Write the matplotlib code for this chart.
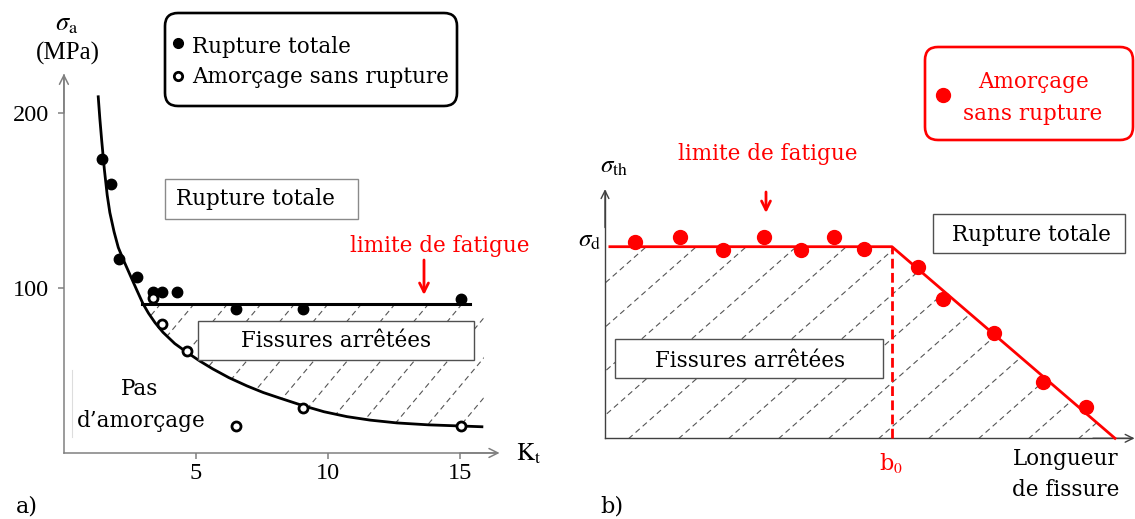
import numpy as np
import matplotlib.pyplot as plt
from matplotlib.patches import FancyBboxPatch, Polygon
from matplotlib.lines import Line2D

plt.rcParams['mathtext.fontset'] = 'stix'

W, H = 1135, 519
SERIF = 'DejaVu Serif'
RED = '#ff0000'

# ---- a) sigma_a (MPa) vs Kt ----
kt_total = [1.45, 1.78, 2.09, 2.75, 3.38, 3.70, 4.29, 6.52, 9.04, 15.04]
sa_total = [173.7, 159.4, 116.4, 106.3, 97.7, 97.7, 97.7, 87.6, 87.6, 93.4]
kt_init = [3.36, 3.70, 4.67, 6.52, 9.04, 15.04]
sa_init = [93.9, 79.0, 63.9, 21.0, 31.3, 21.0]
kt_curve = [1.30, 1.36, 1.43, 1.53, 1.64, 1.74, 1.90, 2.06, 2.28, 2.50, 2.75, 2.99,
            3.20, 3.45, 3.75, 4.20, 4.66, 5.15, 5.64, 6.25, 6.93, 7.55, 8.18, 9.05,
            9.85, 10.72, 11.60, 12.61, 13.80, 15.11, 15.83]
sa_curve = [209.3, 197.0, 184.5, 168.0, 153.0, 143.0, 132.0, 123.0, 115.0, 107.5, 99.0, 91.0,
            85.5, 80.0, 74.5, 68.0, 63.0, 58.0, 53.5, 48.5, 43.8, 40.0, 36.8, 32.5,
            29.0, 26.2, 24.2, 22.6, 21.5, 20.8, 20.4]
fatigue_kt = [2.95, 15.38]
fatigue_sa = [90.7, 90.7]
kt_ticks = [5, 10, 15]
sa_ticks = [100, 200]

# ---- b) sigma_th vs crack length (b0 = 1, sigma_d = 1) ----
a_points = [0.105, 0.261, 0.410, 0.554, 0.683, 0.798, 0.902, 1.091, 1.178, 1.355, 1.526, 1.675]
s_points = [1.026, 1.052, 0.983, 1.052, 0.983, 1.052, 0.988, 0.896, 0.727, 0.551, 0.295, 0.163]
thr_a = [0.017, 1.0, 1.777]
thr_s = [1.0, 1.0, 0.0]
b0 = 1.0
sigma_d = 1.0

fig = plt.figure(figsize=(W / 100, H / 100), dpi=100)
inch = fig.dpi_scale_trans


def text(ax, x, y, s, **kw):
    kw.setdefault('family', SERIF)
    kw.setdefault('fontsize', 15.5)
    kw.setdefault('va', 'baseline')
    ax.text(x / 100, (H - y) / 100, s, transform=inch, zorder=6, **kw)


def box(ax, x0, y0, x1, y1, ec, lw, r=0.0):
    style = 'round,pad=0,rounding_size=%g' % r if r else 'square,pad=0'
    ax.add_patch(FancyBboxPatch((x0 / 100, (H - y1) / 100), (x1 - x0) / 100, (y1 - y0) / 100,
                                boxstyle=style, transform=inch, fc='white', ec=ec, lw=lw,
                                zorder=5, clip_on=False))


def arrow_down(ax, x, y_top, y_tip, color, lw, ms):
    ax.annotate('', xy=(x / 100, (H - y_tip) / 100), xytext=(x / 100, (H - y_top) / 100),
                xycoords=inch, textcoords=inch,
                arrowprops=dict(arrowstyle='->', color=color, lw=lw, shrinkA=0, shrinkB=0,
                                mutation_scale=ms))


def hatch(ax, verts, x_base, y_base, step, n, angle, y_lo, y_hi):
    clip = Polygon(verts, closed=True, transform=ax.transData)
    t = np.tan(np.radians(angle))
    for k in range(-n, n):
        xb = x_base + k * step
        xs = [xb + (y_base - y_lo) / t, xb + (y_base - y_hi) / t]
        ys = [y_lo, y_hi]
        ln = Line2D([v / 100 for v in xs], [(H - v) / 100 for v in ys], transform=inch,
                    color='#555555', lw=0.8, ls=(0, (5, 3.5)), zorder=1)
        ax.add_line(ln)
        ln.set_clip_path(clip)


# ================= panel a =================
ax1 = fig.add_axes([0, 0, 526 / W, 1])
ax1.set_xlim(-2.42, 17.5)
ax1.set_ylim(-32.4, 264.7)
ax1.patch.set_visible(False)
gray = '#808080'
for s in ['top', 'right']:
    ax1.spines[s].set_visible(False)
ax1.spines['left'].set_position(('data', 0))
ax1.spines['bottom'].set_position(('data', 5.4))
ax1.spines['left'].set_bounds(5.4, 221.7)
ax1.spines['bottom'].set_bounds(0, 16.4)
for s in ['left', 'bottom']:
    ax1.spines[s].set_color(gray)
    ax1.spines[s].set_linewidth(1.1)
ax1.annotate('', xy=(0, 222.5), xytext=(0, 200), arrowprops=dict(arrowstyle='->', color=gray, lw=1.1,
             shrinkA=0, shrinkB=0, mutation_scale=16))
ax1.annotate('', xy=(16.5, 5.4), xytext=(15, 5.4), arrowprops=dict(arrowstyle='->', color=gray, lw=1.1,
             shrinkA=0, shrinkB=0, mutation_scale=16))
ax1.set_xticks(kt_ticks)
ax1.set_yticks(sa_ticks)
ax1.tick_params(direction='out', length=4.5, width=1.1, color=gray, labelsize=17.5, labelcolor='black')
ax1.tick_params(axis='x', pad=3)
ax1.tick_params(axis='y', pad=6)
for lab in ax1.get_xticklabels() + ax1.get_yticklabels():
    lab.set_family('Liberation Serif')

verts_a = [(fatigue_kt[0], fatigue_sa[0]), (15.9, fatigue_sa[0]), (15.9, sa_curve[-1])]
verts_a += [(k, s) for k, s in zip(kt_curve[::-1], sa_curve[::-1]) if k > fatigue_kt[0]]
hatch(ax1, verts_a, 158, 307, 33.5, 14, 50, 460, 290)

ax1.plot(kt_curve, sa_curve, color='black', lw=2.0, zorder=3, solid_joinstyle='round')
ax1.plot(fatigue_kt, fatigue_sa, color='black', lw=2.2, zorder=3)
ax1.plot(kt_total, sa_total, 'o', color='black', ms=7.5, zorder=4)
ax1.plot(kt_init, sa_init, 'o', mfc='white', mec='black', mew=2, ms=6.5, zorder=4)

text(ax1, 67, 30, r'$\sigma_{\mathrm{a}}$', family='STIXGeneral', fontsize=19, ha='center')
text(ax1, 68, 60, '(MPa)', family='Liberation Serif', fontsize=18, ha='center')
text(ax1, 516, 461, r'$\mathrm{K}_{\mathrm{t}}$', family='STIXGeneral', fontsize=18)
text(ax1, 16, 512, 'a)', fontsize=16)

box(ax1, 165, 13, 457, 106, 'black', 1.9, r=0.13)
ax1.plot([1.78], [(H - 43) / 100], 'o', color='black', ms=7, transform=inch, clip_on=False, zorder=6)
ax1.plot([1.78], [(H - 76) / 100], 'o', mfc='white', mec='black', mew=2, ms=6, transform=inch,
         clip_on=False, zorder=6)
text(ax1, 192, 53, 'Rupture totale')
text(ax1, 192, 83, 'Amorçage sans rupture')

box(ax1, 165, 179, 358, 219, '#8a8a8a', 1.0)
text(ax1, 176, 205, 'Rupture totale')
box(ax1, 198, 321, 474, 360, '#505050', 1.0)
text(ax1, 336, 347, 'Fissures arrêtées', ha='center')
text(ax1, 350, 252, 'limite de fatigue', color=RED)
arrow_down(ax1, 424, 260, 295, RED, 2, 16)
text(ax1, 140, 395, 'Pas', ha='center')
text(ax1, 141, 427, 'd’amorçage', ha='center')
ax1.add_line(Line2D([0.72, 0.72], [(H - 437) / 100, (H - 370) / 100], transform=inch, color='#dddddd', lw=0.8))

# ================= panel b =================
ax2 = fig.add_axes([540 / W, 0, 595 / W, 1])
ax2.set_xlim(-0.2265, 1.8467)
ax2.set_ylim(-0.4212, 2.2876)
ax2.patch.set_visible(False)
dark = '#404040'
for s in ['top', 'right']:
    ax2.spines[s].set_visible(False)
ax2.spines['left'].set_position(('data', 0))
ax2.spines['bottom'].set_position(('data', 0))
ax2.spines['left'].set_bounds(0, 1.29)
ax2.spines['bottom'].set_bounds(0, 1.835)
for s in ['left', 'bottom']:
    ax2.spines[s].set_color(dark)
    ax2.spines[s].set_linewidth(1.0)
ax2.set_xticks([])
ax2.set_yticks([])
ax2.annotate('', xy=(0, 1.30), xytext=(0, 1.1), arrowprops=dict(arrowstyle='->', color=dark, lw=1.0,
             shrinkA=0, shrinkB=0, mutation_scale=14))
ax2.annotate('', xy=(1.845, 0), xytext=(1.7, 0), arrowprops=dict(arrowstyle='->', color=dark, lw=1.0,
             shrinkA=0, shrinkB=0, mutation_scale=14))

verts_b = [(0, 0), (0, sigma_d), (b0, sigma_d), (thr_a[-1], thr_s[-1])]
hatch(ax2, verts_b, 729, 438.3, 50, 10, 41.4, 445, 240)

ax2.plot(thr_a, thr_s, color=RED, lw=2, zorder=3)
ax2.plot([b0, b0], [0, sigma_d], color=RED, lw=2, ls=(0, (3.5, 1.6)), zorder=3)
ax2.plot(a_points, s_points, 'o', color=RED, ms=10, zorder=4)

text(ax2, 600, 173, r'$\sigma_{\mathrm{th}}$', family='STIXGeneral', fontsize=18)
text(ax2, 578, 247, r'$\sigma_{\mathrm{d}}$', family='STIXGeneral', fontsize=18)
text(ax2, 891, 470, r'b$_0$', color=RED, ha='center', fontsize=16)
text(ax2, 1066, 465, 'Longueur', ha='center')
text(ax2, 1066, 496, 'de fissure', ha='center')
text(ax2, 600, 513, 'b)', fontsize=16)
text(ax2, 768, 160, 'limite de fatigue', color=RED, ha='center')
arrow_down(ax2, 766, 192, 213, RED, 2, 16)

box(ax2, 933, 214, 1125, 253, '#505050', 1.0)
text(ax2, 952, 241, 'Rupture totale')
box(ax2, 615, 339, 883, 378, '#505050', 1.0)
text(ax2, 750, 367, 'Fissures arrêtées', ha='center')

box(ax2, 925, 47, 1133, 140, RED, 1.9, r=0.13)
ax2.plot([9.43], [(H - 95) / 100], 'o', color=RED, ms=10, transform=inch, clip_on=False, zorder=6)
text(ax2, 1033, 88, 'Amorçage', color=RED, ha='center')
text(ax2, 1033, 120, 'sans rupture', color=RED, ha='center')

fig.savefig('out.png', dpi=100)
